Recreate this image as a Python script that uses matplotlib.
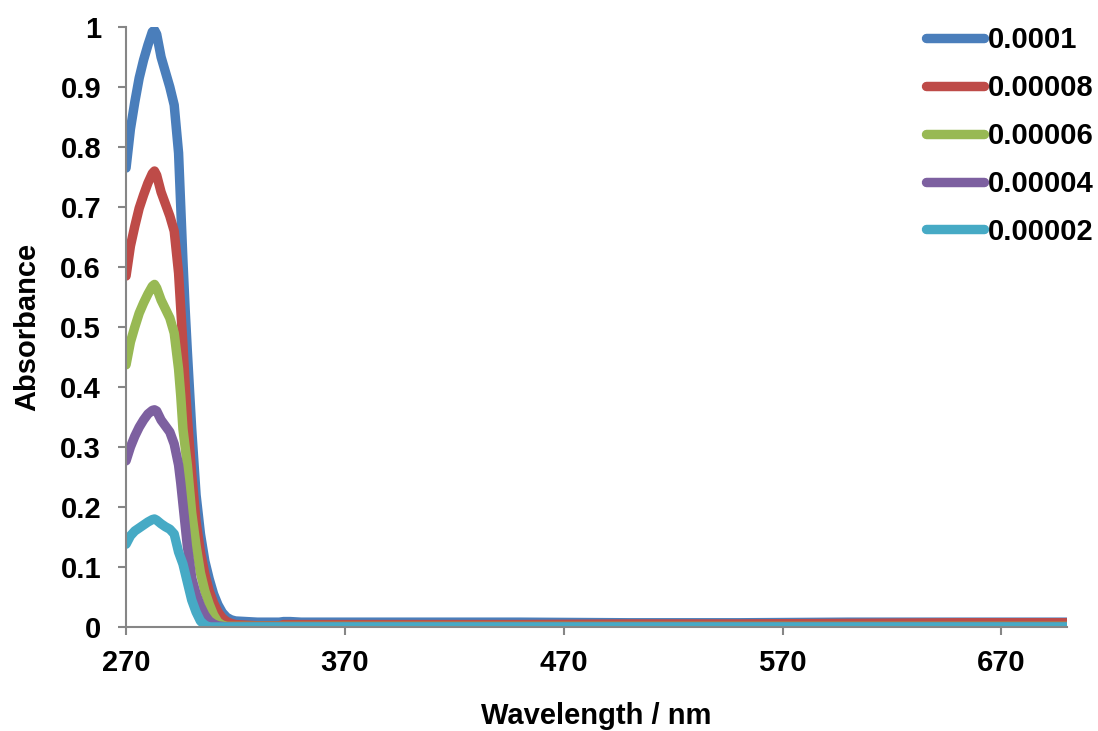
import matplotlib
matplotlib.use("Agg")
import matplotlib.pyplot as plt

plt.rcParams['font.family'] = ['Liberation Sans', 'DejaVu Sans']

wavelength = [270, 272, 274, 276, 278, 280, 282, 283, 284, 286, 288, 290, 292, 294,
              295, 296, 297, 298, 300, 302, 304, 306, 308, 310, 312, 314, 316, 318,
              320, 330, 340, 342, 345, 350, 400, 450, 500, 550, 600, 650, 700]

abs_1e4 = [0.765, 0.830, 0.875, 0.915, 0.945, 0.970, 0.992, 0.995, 0.988, 0.950, 0.925,
           0.900, 0.870, 0.790, 0.700, 0.610, 0.530, 0.460, 0.330, 0.220, 0.155, 0.110,
           0.080, 0.055, 0.037, 0.024, 0.016, 0.012, 0.010, 0.008, 0.008, 0.009, 0.009,
           0.008, 0.008, 0.008, 0.007, 0.007, 0.008, 0.008, 0.008]
abs_8e5 = [0.585, 0.635, 0.668, 0.698, 0.720, 0.740, 0.756, 0.760, 0.753, 0.725, 0.705,
           0.685, 0.660, 0.590, 0.530, 0.470, 0.405, 0.350, 0.255, 0.175, 0.125, 0.088,
           0.060, 0.040, 0.025, 0.015, 0.009, 0.006, 0.004, 0.002, 0.002, 0.004, 0.004,
           0.004, 0.004, 0.004, 0.005, 0.005, 0.006, 0.007, 0.007]
abs_6e5 = [0.437, 0.475, 0.500, 0.523, 0.540, 0.555, 0.568, 0.571, 0.565, 0.545, 0.530,
           0.515, 0.490, 0.430, 0.385, 0.330, 0.300, 0.270, 0.190, 0.135, 0.090, 0.060,
           0.038, 0.020, 0.008, 0.003, 0.001, 0.001, 0.001, 0.001, 0.001, 0.001, 0.001,
           0.001, 0.001, 0.001, 0.001, 0.001, 0.001, 0.001, 0.001]
abs_4e5 = [0.277, 0.300, 0.318, 0.333, 0.345, 0.355, 0.361, 0.362, 0.360, 0.345, 0.335,
           0.325, 0.305, 0.270, 0.240, 0.205, 0.170, 0.135, 0.082, 0.055, 0.035, 0.020,
           0.010, 0.005, 0.002, 0.001, 0.000, 0.000, 0.000, 0.000, 0.000, 0.000, 0.000,
           0.000, 0.000, 0.000, 0.000, 0.000, 0.000, 0.000, 0.000]
abs_2e5 = [0.138, 0.152, 0.160, 0.165, 0.170, 0.175, 0.179, 0.180, 0.178, 0.172, 0.167,
           0.163, 0.155, 0.125, 0.115, 0.105, 0.090, 0.075, 0.045, 0.025, 0.010, 0.003,
           0.000, 0.000, 0.000, 0.000, 0.000, 0.000, 0.000, 0.000, 0.000, 0.000, 0.000,
           0.000, 0.000, 0.000, 0.000, 0.000, 0.000, 0.000, 0.000]

series_labels = ['0.0001', '0.00008', '0.00006', '0.00004', '0.00002']
series_values = [abs_1e4, abs_8e5, abs_6e5, abs_4e5, abs_2e5]
colors = ['#4A7EBB', '#BE4B48', '#98B954', '#7D60A0', '#46AAC5']

x_ticks = [270, 370, 470, 570, 670]
y_ticks = [0, 0.1, 0.2, 0.3, 0.4, 0.5, 0.6, 0.7, 0.8, 0.9, 1]
y_tick_labels = ['0', '0.1', '0.2', '0.3', '0.4', '0.5', '0.6', '0.7', '0.8', '0.9', '1']

FS = 21

fig = plt.figure(figsize=(10.98, 7.31), dpi=100)
ax = fig.add_axes([0.1148, 0.1423, 0.857, 0.8207])

for vals, lab, col in zip(series_values, series_labels, colors):
    ax.plot(wavelength, vals, color=col, lw=6.8, label=lab,
            solid_capstyle='round', solid_joinstyle='round')

ax.set_xlim(270, 700)
ax.set_ylim(0, 1)
ax.set_xticks(x_ticks)
ax.set_xticklabels([str(t) for t in x_ticks])
ax.set_yticks(y_ticks)
ax.set_yticklabels(y_tick_labels)

for s in ['top', 'right']:
    ax.spines[s].set_visible(False)
for s in ['left', 'bottom']:
    ax.spines[s].set_color('#868686')
    ax.spines[s].set_linewidth(1.5)
ax.tick_params(axis='both', direction='out', length=6, width=1.5, color='#868686',
               labelsize=FS)
ax.tick_params(axis='y', pad=12)
ax.tick_params(axis='x', pad=10)
for lbl in ax.get_xticklabels() + ax.get_yticklabels():
    lbl.set_fontweight('bold')

ax.set_xlabel('Wavelength / nm', fontsize=FS, fontweight='bold', labelpad=18)
ax.set_ylabel('Absorbance', fontsize=FS, fontweight='bold', labelpad=14)

leg = ax.legend(loc='upper left', bbox_to_anchor=(0.8328, 0.980),
                bbox_transform=fig.transFigure, frameon=False,
                prop={'size': FS, 'weight': 'bold'}, handlelength=1.97,
                handletextpad=0.14, labelspacing=0.68, borderaxespad=0)

fig.savefig('out.png', dpi=100)
